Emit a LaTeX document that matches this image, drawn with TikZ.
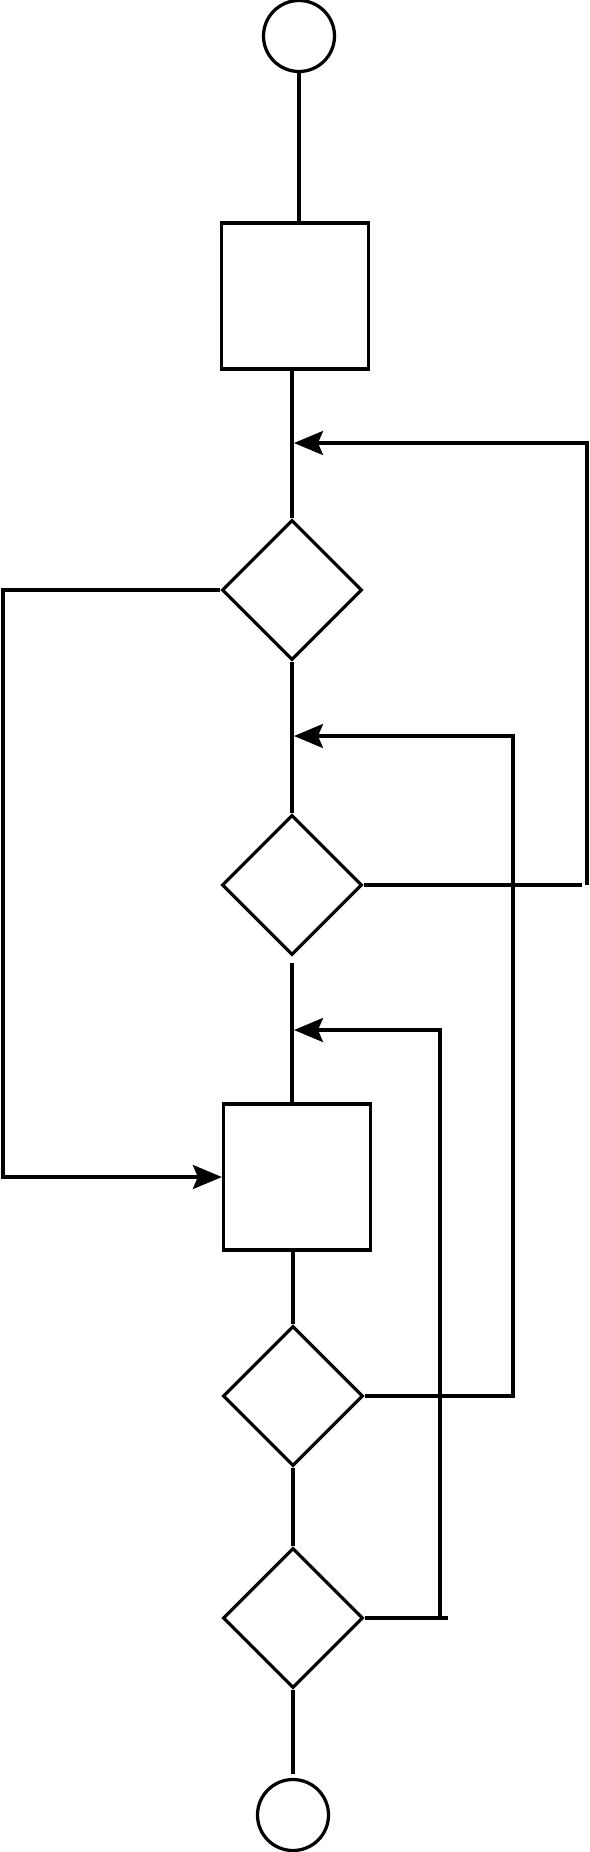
\documentclass[tikz,border=0pt]{standalone}
\usetikzlibrary{shapes.geometric,arrows.meta}
\begin{document}
\begin{tikzpicture}[x=0.2mm,y=-0.2mm,line width=0.65mm,
  terminal/.style={draw,circle,minimum size=14.2mm,inner sep=0},
  box/.style={draw,rectangle,minimum width=29.4mm,minimum height=29.2mm,inner sep=0},
  decision/.style={draw,diamond,minimum width=28mm,minimum height=28mm,inner sep=0},
  flow/.style={-{Stealth[length=5.8mm,width=4.8mm,inset=1mm]}}]
\useasboundingbox (0,0) rectangle (590,1852);
\node[terminal] (start) at (299,36) {};
\node[box] (box1) at (295,296) {};
\node[decision] (dec1) at (292,590) {};
\node[decision] (dec2) at (292,885) {};
\node[box] (box2) at (297,1177) {};
\node[decision] (dec3) at (293,1396) {};
\node[decision] (dec4) at (293,1618) {};
\node[terminal] (stop) at (293,1815) {};
\coordinate (in1) at (294,443);
\coordinate (in2) at (294,736);
\coordinate (in3) at (294,1030);
\draw (start.south) -- (start.south |- box1.north);
\draw (dec1.north) -- (dec1.north |- box1.south);
\draw (dec1.south) -- (dec2.north);
\draw[shorten <=1.2mm] (dec2.south) -- (dec2.south |- box2.north);
\draw (dec3.north) -- (dec3.north |- box2.south);
\draw (dec3.south) -- (dec4.north);
\draw[shorten >=0.8mm] (dec4.south) -- (stop.north);
\coordinate (ra) at (582,885);
\coordinate (rb) at (587,885);
\draw (dec2.east) -- (ra);
\draw[flow] (rb) |- (in1);
\coordinate (rc) at (513,736);
\draw[flow] (dec3.east) -| (rc) -- (in2);
\coordinate (rd) at (448,1618);
\coordinate (re) at (440,1616);
\draw (dec4.east) -- (rd);
\draw[flow] (re) |- (in3);
\coordinate (lc) at (3,1177);
\draw[flow] (dec1.west) -| (lc) -- (box2.west);
\end{tikzpicture}
\end{document}
